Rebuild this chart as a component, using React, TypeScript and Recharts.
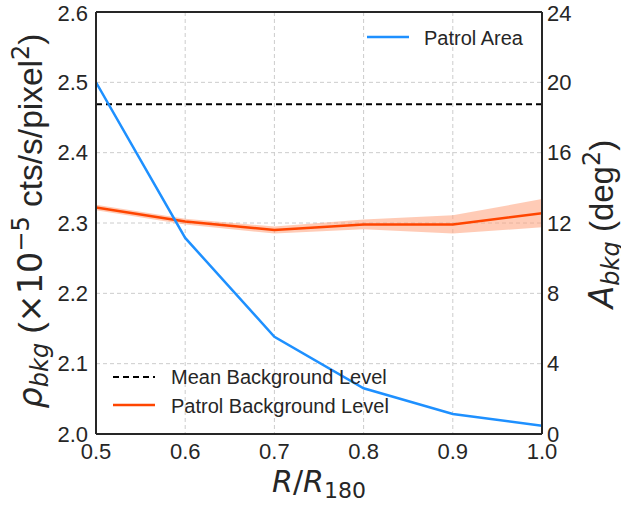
import React from 'react';
import {
  ComposedChart, Line, Area, XAxis, YAxis, CartesianGrid, ReferenceLine, Label,
} from 'recharts';

const xValues = [0.5, 0.6, 0.7, 0.8, 0.9, 1.0];
const patrolArea = [20.0, 11.15, 5.53, 2.6, 1.14, 0.47];
const patrolBkg = [2.322, 2.302, 2.29, 2.298, 2.298, 2.314];
const patrolBkgErr = [0.004, 0.004, 0.005, 0.007, 0.013, 0.02];
const meanBkg = 2.469;
const xTicks = [0.5, 0.6, 0.7, 0.8, 0.9, 1.0];
const leftTicks = [2.0, 2.1, 2.2, 2.3, 2.4, 2.5, 2.6];
const rightTicks = [0, 4, 8, 12, 16, 20, 24];
const legendTop = ['Patrol Area'];
const legendBottom = ['Mean Background Level', 'Patrol Background Level'];

const data = xValues.map((x, i) => ({
  x,
  area: patrolArea[i],
  bkg: patrolBkg[i],
  band: [patrolBkg[i] - patrolBkgErr[i], patrolBkg[i] + patrolBkgErr[i]],
}));

const TXT = '#262626';
const SANS = '"Liberation Sans", Arial, sans-serif';
const MATH = '"DejaVu Sans", sans-serif';
const BLUE = '#1E90FF';
const ORANGE = '#FF4500';

const LeftLabel = (props: any) => {
  const vb = props.viewBox || {};
  const cx = 42;
  const cy = vb.y + vb.height / 2 - 2;
  return (
    <text x={cx} y={cy} transform={`rotate(-90 ${cx} ${cy})`} textAnchor="middle" fill={TXT} fontSize={33.5} fontFamily={SANS}>
      <tspan fontFamily={MATH} fontStyle="italic">ρ</tspan>
      <tspan fontFamily={MATH} fontStyle="italic" fontSize={24} dy={6}>bkg</tspan>
      <tspan dy={-6}> (</tspan>
      <tspan fontFamily={MATH}>×10</tspan>
      <tspan fontFamily={MATH} fontSize={24} dy={-13}>−5</tspan>
      <tspan dy={13}> cts/s/pixel</tspan>
      <tspan fontFamily={MATH} fontSize={24} dy={-13}>2</tspan>
      <tspan dy={13}>)</tspan>
    </text>
  );
};

const RightLabel = (props: any) => {
  const vb = props.viewBox || {};
  const cx = 613;
  const cy = vb.y + vb.height / 2 + 1;
  return (
    <text x={cx} y={cy} transform={`rotate(-90 ${cx} ${cy})`} textAnchor="middle" fill={TXT} fontSize={33} fontFamily={SANS}>
      <tspan fontFamily={MATH} fontStyle="italic">A</tspan>
      <tspan fontFamily={MATH} fontStyle="italic" fontSize={24} dy={6}>bkg</tspan>
      <tspan dy={-6}> (deg</tspan>
      <tspan fontFamily={MATH} fontSize={24} dy={-13}>2</tspan>
      <tspan dy={13}>)</tspan>
    </text>
  );
};

const BottomLabel = (props: any) => {
  const vb = props.viewBox || {};
  const cx = vb.x + vb.width / 2;
  const cy = 492;
  return (
    <text x={cx} y={cy} textAnchor="middle" fill={TXT} fontSize={30} fontFamily={MATH}>
      <tspan fontStyle="italic">R</tspan>
      <tspan>/</tspan>
      <tspan fontStyle="italic">R</tspan>
      <tspan fontSize={22} dy={6}>180</tspan>
    </text>
  );
};

const LegendOverlay = () => (
  <svg width={621} height={505} style={{ position: 'absolute', left: 0, top: 0, pointerEvents: 'none' }}>
    <g fontFamily={SANS} fontSize={20} fill={TXT}>
      <line x1={367} x2={409} y1={37} y2={37} stroke={BLUE} strokeWidth={2.5} />
      <text x={424} y={45}>{legendTop[0]}</text>
      <line x1={113} x2={155} y1={377} y2={377} stroke="#000" strokeWidth={2} strokeDasharray="6 4" />
      <text x={171} y={384}>{legendBottom[0]}</text>
      <line x1={113} x2={155} y1={405} y2={405} stroke={ORANGE} strokeWidth={2.5} />
      <text x={171} y={413}>{legendBottom[1]}</text>
    </g>
  </svg>
);

export default function App() {
  return (
    <div style={{ position: 'absolute', left: 0, top: 0, width: 621, height: 505, background: '#fff' }}>
      <ComposedChart width={621} height={505} data={data} margin={{ top: 12, right: 19, bottom: 21, left: 16 }}>
        <CartesianGrid stroke="#cccccc" strokeDasharray="4 3" strokeWidth={1} yAxisId="left" />
        <XAxis
          dataKey="x" type="number" domain={[0.5, 1.0]} ticks={xTicks} allowDataOverflow
          tickFormatter={(v: number) => v.toFixed(1)} height={50}
          tickLine={false} tickSize={7} tickMargin={2}
          axisLine={{ stroke: TXT, strokeWidth: 2 }}
          tick={{ fill: TXT, fontSize: 22, fontFamily: SANS }}
        >
          <Label content={BottomLabel} />
        </XAxis>
        <YAxis
          yAxisId="left" domain={[2.0, 2.6]} ticks={leftTicks} width={80} allowDataOverflow
          tickFormatter={(v: number) => v.toFixed(1)}
          tickLine={false} tickSize={6} tickMargin={2}
          axisLine={{ stroke: TXT, strokeWidth: 2 }}
          tick={{ fill: TXT, fontSize: 22, fontFamily: SANS }}
        >
          <Label content={LeftLabel} />
        </YAxis>
        <YAxis
          yAxisId="right" orientation="right" domain={[0, 24]} ticks={rightTicks} width={60}
          tickLine={false} tickSize={3} tickMargin={2}
          axisLine={{ stroke: TXT, strokeWidth: 2 }}
          tick={{ fill: TXT, fontSize: 22, fontFamily: SANS }}
        >
          <Label content={RightLabel} />
        </YAxis>
        <Area yAxisId="left" dataKey="band" type="linear" stroke="none" fill="#FFA07A" fillOpacity={0.55} isAnimationActive={false} />
        <ReferenceLine yAxisId="left" y={meanBkg} stroke="#000" strokeWidth={2} strokeDasharray="6 4" />
        <ReferenceLine yAxisId="left" y={2.6} stroke={TXT} strokeWidth={2} />
        <Line yAxisId="left" dataKey="bkg" type="linear" stroke={ORANGE} strokeWidth={2.5} dot={false} isAnimationActive={false} />
        <Line yAxisId="right" dataKey="area" type="linear" stroke={BLUE} strokeWidth={2.5} dot={false} isAnimationActive={false} />
      </ComposedChart>
      <LegendOverlay />
    </div>
  );
}
